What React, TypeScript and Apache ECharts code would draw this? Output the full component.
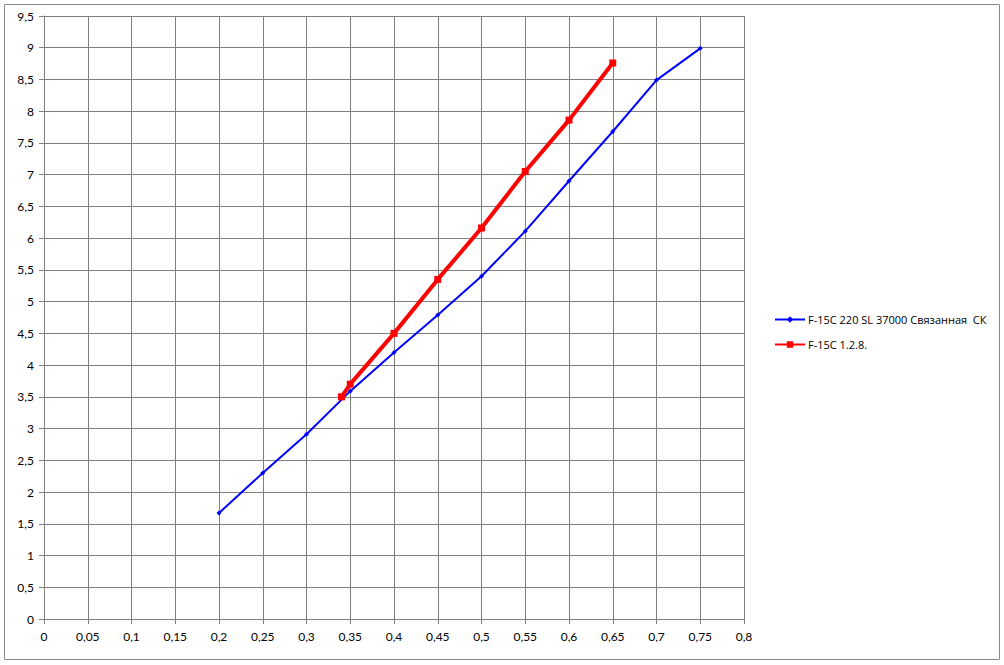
import React, { useEffect, useRef } from "react";
import * as echarts from "echarts";

const blueName = "F-15C 220 SL 37000 Связанная  СК";
const redName = "F-15C 1.2.8.";
const blueX = [0.2, 0.25, 0.3, 0.35, 0.4, 0.45, 0.5, 0.55, 0.6, 0.65, 0.7, 0.75];
const blueY = [1.67, 2.3, 2.91, 3.59, 4.2, 4.79, 5.4, 6.11, 6.9, 7.68, 8.49, 8.99];
const redX = [0.34, 0.35, 0.4, 0.45, 0.5, 0.55, 0.6, 0.65];
const redY = [3.5, 3.7, 4.5, 5.35, 6.16, 7.05, 7.86, 8.76];

const fmt = (v: number) => String(Math.round(v * 100) / 100).replace(".", ",");

export default function App() {
  const ref = useRef<HTMLDivElement>(null);
  useEffect(() => {
    document.body.style.margin = "0";
    const chart = echarts.init(ref.current!, null, { renderer: "svg" });
    const font = "Lato, 'Open Sans', sans-serif";
    const legendFont = "'Open Sans', 'Noto Sans', sans-serif";
    chart.setOption({
      animation: false,
      backgroundColor: "#fff",
      textStyle: { fontFamily: font },
      graphic: [
        {
          type: "rect",
          shape: { x: 4.5, y: 4.5, width: 995, height: 655 },
          style: { fill: "none", stroke: "#8a8a8a", lineWidth: 1 },
          silent: true,
        },
      ],
      grid: { left: 44, right: 260, top: 16, bottom: 46 },
      legend: {
        orient: "vertical",
        left: 774,
        top: 314,
        padding: 0,
        itemWidth: 30,
        itemHeight: 8,
        itemGap: 14,
        textStyle: { fontSize: 11, color: "#000", fontFamily: legendFont, padding: [0, 0, 0, -2] },
        data: [blueName, redName],
      },
      xAxis: {
        type: "value",
        min: 0,
        max: 0.8,
        interval: 0.05,
        axisLine: { lineStyle: { color: "#808080" } },
        axisTick: { show: true, length: 5, lineStyle: { color: "#808080" } },
        axisLabel: { formatter: fmt, color: "#000", fontSize: 12, margin: 11 },
        splitLine: { show: true, lineStyle: { color: "#808080", width: 1 } },
      },
      yAxis: {
        type: "value",
        min: 0,
        max: 9.5,
        interval: 0.5,
        axisLine: { show: true, lineStyle: { color: "#808080" } },
        axisTick: { show: true, length: 5, lineStyle: { color: "#808080" } },
        axisLabel: { formatter: fmt, color: "#000", fontSize: 12, margin: 10 },
        splitLine: { show: true, lineStyle: { color: "#808080", width: 1 } },
      },
      series: [
        {
          name: blueName,
          type: "line",
          data: blueX.map((x, i) => [x, blueY[i]]),
          symbol: "diamond",
          symbolSize: 5,
          showAllSymbol: true,
          lineStyle: { color: "#0000ff", width: 2 },
          itemStyle: { color: "#0000ff" },
          z: 3,
        },
        {
          name: redName,
          type: "line",
          data: redX.map((x, i) => [x, redY[i]]),
          symbol: "rect",
          symbolSize: 7,
          showAllSymbol: true,
          lineStyle: { color: "#ff0000", width: 4 },
          itemStyle: { color: "#ff0000" },
          z: 4,
        },
      ],
    });
    return () => chart.dispose();
  }, []);
  return (
    <div
      ref={ref}
      style={{ position: "absolute", left: 0, top: 0, width: 1004, height: 665 }}
    />
  );
}
